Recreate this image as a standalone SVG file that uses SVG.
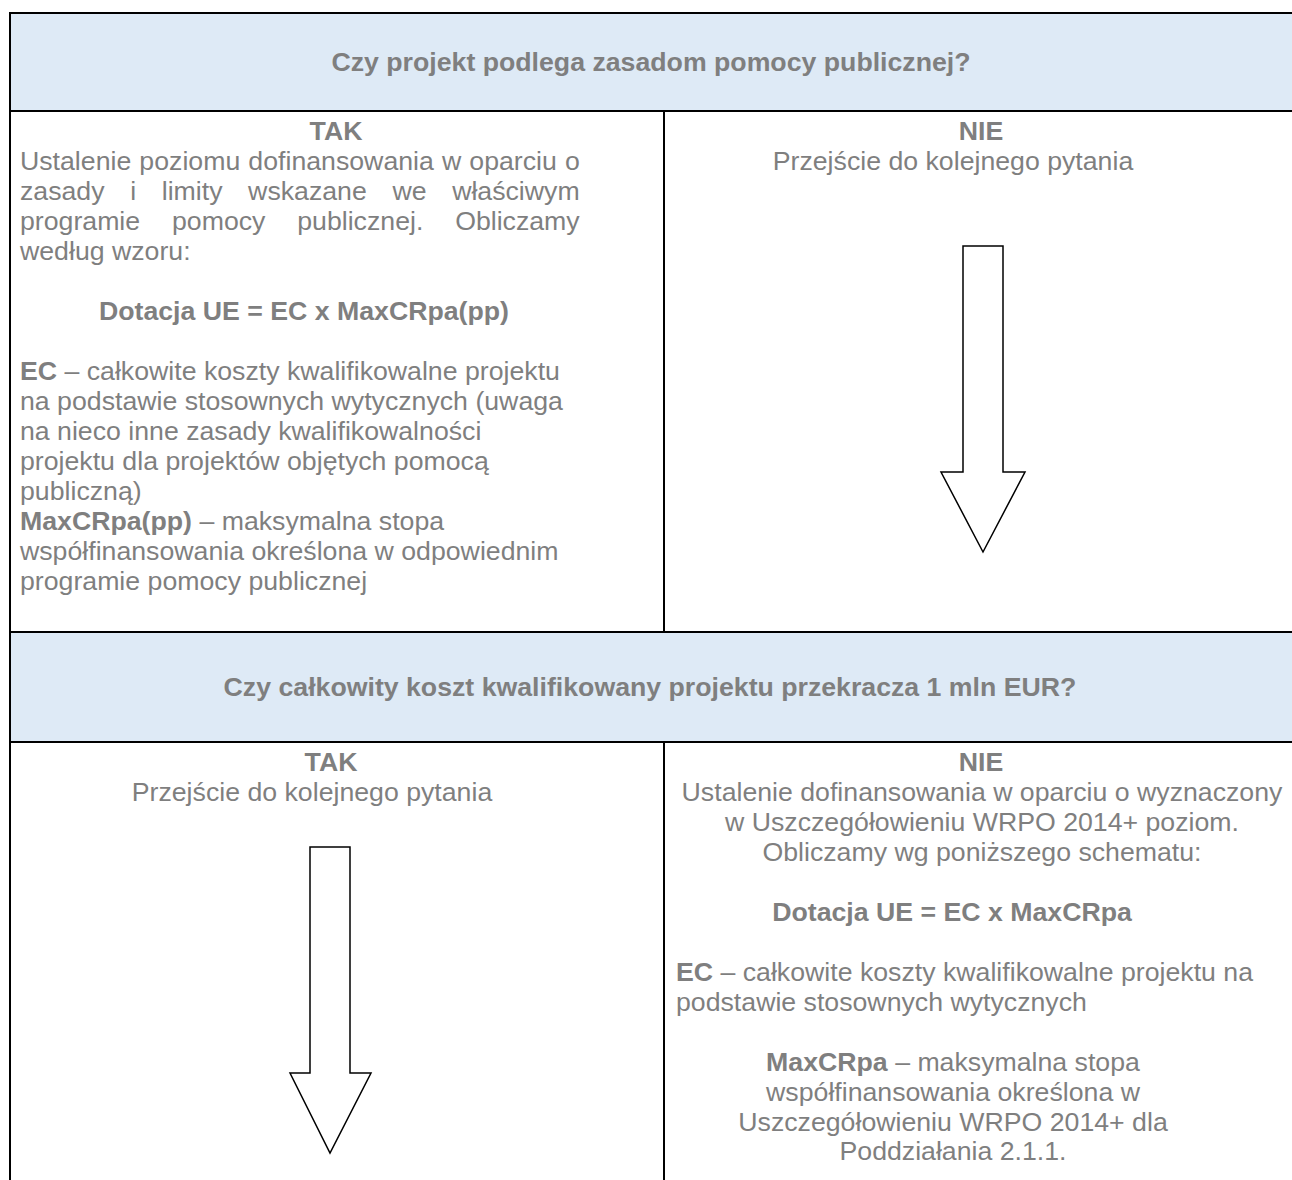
<svg xmlns="http://www.w3.org/2000/svg" width="1292" height="1180" viewBox="0 0 1292 1180">
<style>
  text { font-family: "Liberation Sans", Arial, sans-serif; font-size: 26.7px; fill: #7f7f7f; }
  .b { font-weight: bold; }
  .c { text-anchor: middle; }
  .hdr { fill: #deeaf6; stroke: none; }
  .ln { stroke: #000; stroke-width: 2; fill: none; }
  .arrow { fill: #fff; stroke: #000; stroke-width: 1.5; stroke-linejoin: miter; }
</style>
<rect x="0" y="0" width="1292" height="1180" fill="#fff"/>

<g id="header1">
  <rect class="hdr" x="10" y="13" width="1282" height="98"/>
  <text class="b c" x="651" y="71">Czy projekt podlega zasadom pomocy publicznej?</text>
</g>

<g id="q1-tak">
  <text class="b c" x="336" y="140">TAK</text>
  <text x="20" y="170" word-spacing="0.7">Ustalenie poziomu dofinansowania w oparciu o</text>
  <text x="20" y="200" word-spacing="18.2">zasady i limity wskazane we właściwym</text>
  <text x="20" y="230" word-spacing="24.4">programie pomocy publicznej. Obliczamy</text>
  <text x="20" y="260">według wzoru:</text>
  <text class="b c" x="304" y="320">Dotacja UE = EC x MaxCRpa(pp)</text>
  <text x="20" y="380"><tspan class="b">EC</tspan> – całkowite koszty kwalifikowalne projektu</text>
  <text x="20" y="410">na podstawie stosownych wytycznych (uwaga</text>
  <text x="20" y="440">na nieco inne zasady kwalifikowalności</text>
  <text x="20" y="470">projektu dla projektów objętych pomocą</text>
  <text x="20" y="500">publiczną)</text>
  <text x="20" y="530"><tspan class="b">MaxCRpa(pp)</tspan> – maksymalna stopa</text>
  <text x="20" y="560">współfinansowania określona w odpowiednim</text>
  <text x="20" y="590">programie pomocy publicznej</text>
</g>

<g id="q1-nie">
  <text class="b c" x="981" y="140">NIE</text>
  <text class="c" x="953" y="170">Przejście do kolejnego pytania</text>
</g>

<g id="header2">
  <rect class="hdr" x="10" y="632" width="1282" height="110"/>
  <text class="b c" x="650" y="696">Czy całkowity koszt kwalifikowany projektu przekracza 1 mln EUR?</text>
</g>

<g id="q2-tak">
  <text class="b c" x="331" y="771">TAK</text>
  <text class="c" x="312" y="801">Przejście do kolejnego pytania</text>
</g>

<g id="q2-nie">
  <text class="b c" x="981" y="771">NIE</text>
  <text class="c" x="982" y="801">Ustalenie dofinansowania w oparciu o wyznaczony</text>
  <text class="c" x="982" y="831">w Uszczegółowieniu WRPO 2014+ poziom.</text>
  <text class="c" x="982" y="861">Obliczamy wg poniższego schematu:</text>
  <text class="b c" x="952" y="921">Dotacja UE = EC x MaxCRpa</text>
  <text x="676" y="981"><tspan class="b">EC</tspan> – całkowite koszty kwalifikowalne projektu na</text>
  <text x="676" y="1011">podstawie stosownych wytycznych</text>
  <text class="c" x="953" y="1071"><tspan class="b">MaxCRpa</tspan> – maksymalna stopa</text>
  <text class="c" x="953" y="1101">współfinansowania określona w</text>
  <text class="c" x="953" y="1131">Uszczegółowieniu WRPO 2014+ dla</text>
  <text class="c" x="953" y="1160">Poddziałania 2.1.1.</text>
</g>

<g id="grid">
  <line class="ln" x1="9" y1="13" x2="1292" y2="13"/>
  <line class="ln" x1="10" y1="12" x2="10" y2="1180"/>
  <line class="ln" x1="9" y1="111" x2="1292" y2="111"/>
  <line class="ln" x1="9" y1="632" x2="1292" y2="632"/>
  <line class="ln" x1="9" y1="742" x2="1292" y2="742"/>
  <line class="ln" x1="664" y1="111" x2="664" y2="632"/>
  <line class="ln" x1="664" y1="742" x2="664" y2="1180"/>
</g>

<g id="connectors">
  <polygon class="arrow" points="963,246 1003,246 1003,472 1025,472 983,552 941,472 963,472"/>
  <polygon class="arrow" points="310,847 350,847 350,1073 371,1073 330,1153 290,1073 310,1073"/>
</g>
</svg>
